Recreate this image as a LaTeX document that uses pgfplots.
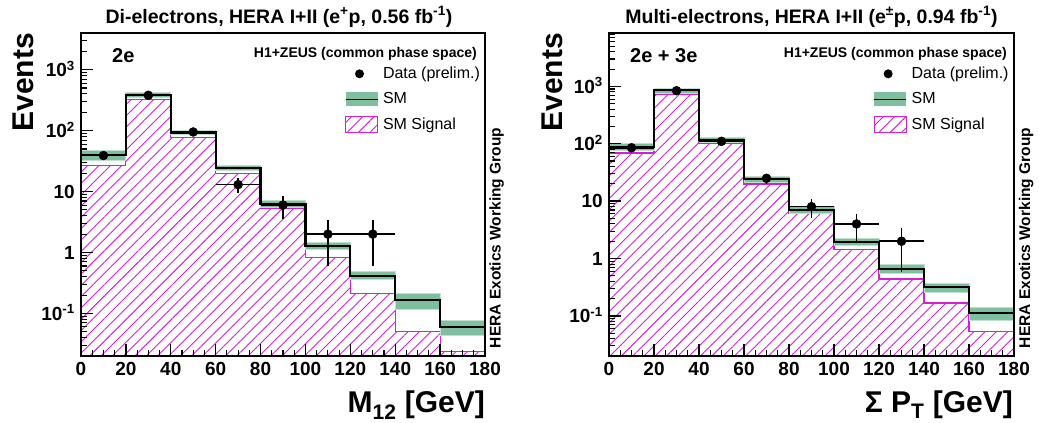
\documentclass[border=0pt]{standalone}
\usepackage{fontspec}
\setmainfont{Liberation Sans}
\usepackage{pgfplots}
\pgfplotsset{compat=1.18}
\usetikzlibrary{patterns.meta}
\definecolor{band}{RGB}{126,191,159}
\definecolor{bandl}{RGB}{190,224,205}
\definecolor{sig}{RGB}{215,30,215}
\newcommand{\tickfont}{\fontsize{19}{19}\selectfont\bfseries}
\pgfplotsset{myhist/.style={
  scale only axis, height=323pt,
  xmin=0, xmax=180, ymin=0.02,
  axis on top, clip=true,
  axis line style={line width=2pt},
  tick align=inside, xtick pos=left, ytick pos=left,
  xtick={0,20,40,60,80,100,120,140,160,180},
  xticklabels={0,20,40,60,80,100,120,140,160,180},
  minor x tick num=3,
  ytick={0.1,1,10,100,1000},
  yticklabels={10\textsuperscript{-1},1,10,10\textsuperscript{2},10\textsuperscript{3}},
  minor ytick={0.02,0.03,0.04,0.05,0.06,0.07,0.08,0.09,0.2,0.3,0.4,0.5,0.6,0.7,0.8,0.9,2,3,4,5,6,7,8,9,20,30,40,50,60,70,80,90,200,300,400,500,600,700,800,900,2000,3000,4000,5000,6000,7000,8000,9000},
  major tick length=12pt, minor tick length=6pt,
  every major tick/.append style={line width=1.4pt, black},
  every minor tick/.append style={line width=1.1pt, black},
  xticklabel style={font=\tickfont, anchor=base, inner sep=0pt, yshift=-19.5pt},
  yticklabel style={font=\tickfont, anchor=base east, inner sep=0pt, xshift=-6pt, yshift=-6.8pt},
  legend cell align=left,
  legend style={anchor=north west, draw=none, fill=none, inner sep=0pt,
    font=\fontsize{16}{16}\selectfont, row sep=10pt, column sep=5pt,
    nodes={inner sep=0pt, text height=11.5pt, text depth=3pt}},
  legimgdata/.style={legend image code/.code={%
    \path[draw=none, fill=none] (0pt,-8pt) rectangle (32pt,8pt);
    \fill[black, draw=none] (14pt,0pt) circle[radius=4.5pt];}},
  legimgsm/.style={legend image code/.code={%
    \fill[band, draw=none] (0pt,-7pt) rectangle (32pt,7pt);
    \draw[black, line width=1pt] (0pt,0pt) -- (32pt,0pt);}},
  legimgsig/.style={legend image code/.code={%
    \fill[pattern={Lines[angle=45,distance=8pt,line width=0.9pt]}, pattern color=sig, draw=none] (0pt,-8pt) rectangle (32pt,8pt);
    \draw[sig, line width=1pt, fill=none] (0pt,-8pt) rectangle (32pt,8pt);}},
}}
\begin{document}
\begin{tikzpicture}
\useasboundingbox (0,0) rectangle (1039pt,423pt);
% ---------------- left: di-electrons ----------------
\begin{axis}[ymode=log, myhist, at={(81pt,67pt)}, anchor=south west, width=404pt, ymax=4000,
  legend style={at={(rel axis cs:0.653,0.899)}}]
\addlegendimage{legimgdata}
\addlegendentry{Data (prelim.)}
\addlegendimage{legimgsm}
\addlegendentry{SM}
\addlegendimage{legimgsig}
\addlegendentry{SM Signal}
% SM signal (hatched)
\addplot[forget plot, const plot, draw=none, pattern={Lines[angle=45,distance=8pt,line width=0.9pt]}, pattern color=sig]
  coordinates {(0,0.01) (0,26.5) (20,322) (40,76) (60,19.8) (80,5.2) (100,0.82) (120,0.21) (140,0.051) (160,0.0235) (180,0.0235) (180,0.01)};
\addplot[forget plot, const plot, draw=sig, line width=1.1pt]
  coordinates {(0,26.5) (20,322) (40,76) (60,19.8) (80,5.2) (100,0.82) (120,0.21) (140,0.051) (160,0.0235) (180,0.0235)};
% SM band
\addplot[forget plot, const plot, fill=band, draw=bandl, line width=1pt]
  coordinates {(0,48) (20,425) (40,101) (60,26.7) (80,7.2) (100,1.48) (120,0.49) (140,0.213) (160,0.077) (180,0.077)
               (180,0.043) (160,0.118) (140,0.36) (120,1.1) (100,5.4) (80,22) (60,85) (40,350) (20,32) (0,32)};
% SM line
\addplot[forget plot, const plot, black, line width=2.2pt]
  coordinates {(0,40) (20,385) (40,93) (60,24.5) (80,6.2) (100,1.27) (120,0.41) (140,0.165) (160,0.06) (180,0.06)};
% data
\addplot[forget plot, only marks, mark=*, mark size=4.5pt, black,
  error bars/.cd, x dir=both, x explicit, y dir=both, y explicit,
  error bar style={line width=1.5pt, black}, error mark=none]
  coordinates {(10,39) +- (10,6.2) (30,380) +- (10,19.5) (50,95) +- (10,9.7) (70,13) +- (10,3.6)
               (90,6) +- (10,2.45) (110,2) +- (10,1.41) (130,2) +- (10,1.41)};
\end{axis}
% ---------------- right: multi-electrons ----------------
\begin{axis}[ymode=log, myhist, at={(609pt,67pt)}, anchor=south west, width=405pt, ymax=8500,
  legend style={at={(rel axis cs:0.653,0.899)}}]
\addlegendimage{legimgdata}
\addlegendentry{Data (prelim.)}
\addlegendimage{legimgsm}
\addlegendentry{SM}
\addlegendimage{legimgsig}
\addlegendentry{SM Signal}
\addplot[forget plot, const plot, draw=none, pattern={Lines[angle=45,distance=8pt,line width=0.9pt]}, pattern color=sig]
  coordinates {(0,0.01) (0,69) (20,715) (40,103) (60,19.9) (80,6.0) (100,1.41) (120,0.44) (140,0.168) (160,0.053) (180,0.053) (180,0.01)};
\addplot[forget plot, const plot, draw=sig, line width=1.1pt]
  coordinates {(0,69) (20,715) (40,103) (60,19.9) (80,6.0) (100,1.41) (120,0.44) (140,0.168) (160,0.053) (180,0.053)};
\addplot[forget plot, const plot, fill=band, draw=bandl, line width=1pt]
  coordinates {(0,99) (20,910) (40,129) (60,26.6) (80,8.1) (100,2.19) (120,0.80) (140,0.37) (160,0.141) (180,0.141)
               (180,0.082) (160,0.258) (140,0.54) (120,1.67) (100,6.2) (80,21.2) (60,106) (40,760) (20,76) (0,76)};
\addplot[forget plot, const plot, black, line width=2.2pt]
  coordinates {(0,87) (20,850) (40,116) (60,24.3) (80,7.0) (100,1.96) (120,0.656) (140,0.315) (160,0.111) (180,0.111)};
\addplot[forget plot, only marks, mark=*, mark size=4.5pt, black,
  error bars/.cd, x dir=both, x explicit, y dir=both, y explicit,
  error bar style={line width=1.5pt, black}, error mark=none]
  coordinates {(10,85) +- (10,9.2) (30,840) +- (10,29) (50,110) +- (10,10.5) (70,25) +- (10,5)
               (90,8) +- (10,2.83) (110,4) +- (10,2) (130,2) +- (10,1.41)};
\end{axis}
% ---------------- texts ----------------
\node[anchor=base, inner sep=0pt, font=\fontsize{19.5}{20}\selectfont\bfseries] at (279pt,399.7pt)
  {Di-electrons, HERA I+II (e\textsuperscript{+}p, 0.56 fb\textsuperscript{-1})};
\node[anchor=base, inner sep=0pt, font=\fontsize{19.5}{20}\selectfont\bfseries] at (811.5pt,399.7pt)
  {Multi-electrons, HERA I+II (e\textsuperscript{±}p, 0.94 fb\textsuperscript{-1})};
\node[rotate=90, anchor=base east, inner sep=0pt, font=\fontsize{30}{30}\selectfont\bfseries] at (33pt,390pt) {Events};
\node[rotate=90, anchor=base east, inner sep=0pt, font=\fontsize{30}{30}\selectfont\bfseries] at (562pt,390pt) {Events};
\node[anchor=base east, inner sep=0pt, font=\fontsize{30}{30}\selectfont\bfseries] at (485pt,10pt) {M\textsubscript{12} [GeV]};
\node[anchor=base east, inner sep=0pt, font=\fontsize{30}{30}\selectfont\bfseries] at (1013pt,10pt) {Σ P\textsubscript{T} [GeV]};
\node[anchor=base west, inner sep=0pt, font=\fontsize{20}{20}\selectfont\bfseries] at (112pt,360pt) {2e};
\node[anchor=base west, inner sep=0pt, font=\fontsize{20}{20}\selectfont\bfseries] at (630pt,360pt) {2e + 3e};
\node[anchor=base east, inner sep=0pt, font=\fontsize{14}{14}\selectfont\bfseries] at (477pt,365.5pt) {H1+ZEUS (common phase space)};
\node[anchor=base east, inner sep=0pt, font=\fontsize{14}{14}\selectfont\bfseries] at (1007pt,365.5pt) {H1+ZEUS (common phase space)};
\node[rotate=90, anchor=base west, inner sep=0pt, font=\fontsize{15.5}{16}\selectfont\bfseries] at (500.5pt,74.7pt) {HERA Exotics Working Group};
\node[rotate=90, anchor=base west, inner sep=0pt, font=\fontsize{15.5}{16}\selectfont\bfseries] at (1030pt,74.7pt) {HERA Exotics Working Group};
\end{tikzpicture}
\end{document}
